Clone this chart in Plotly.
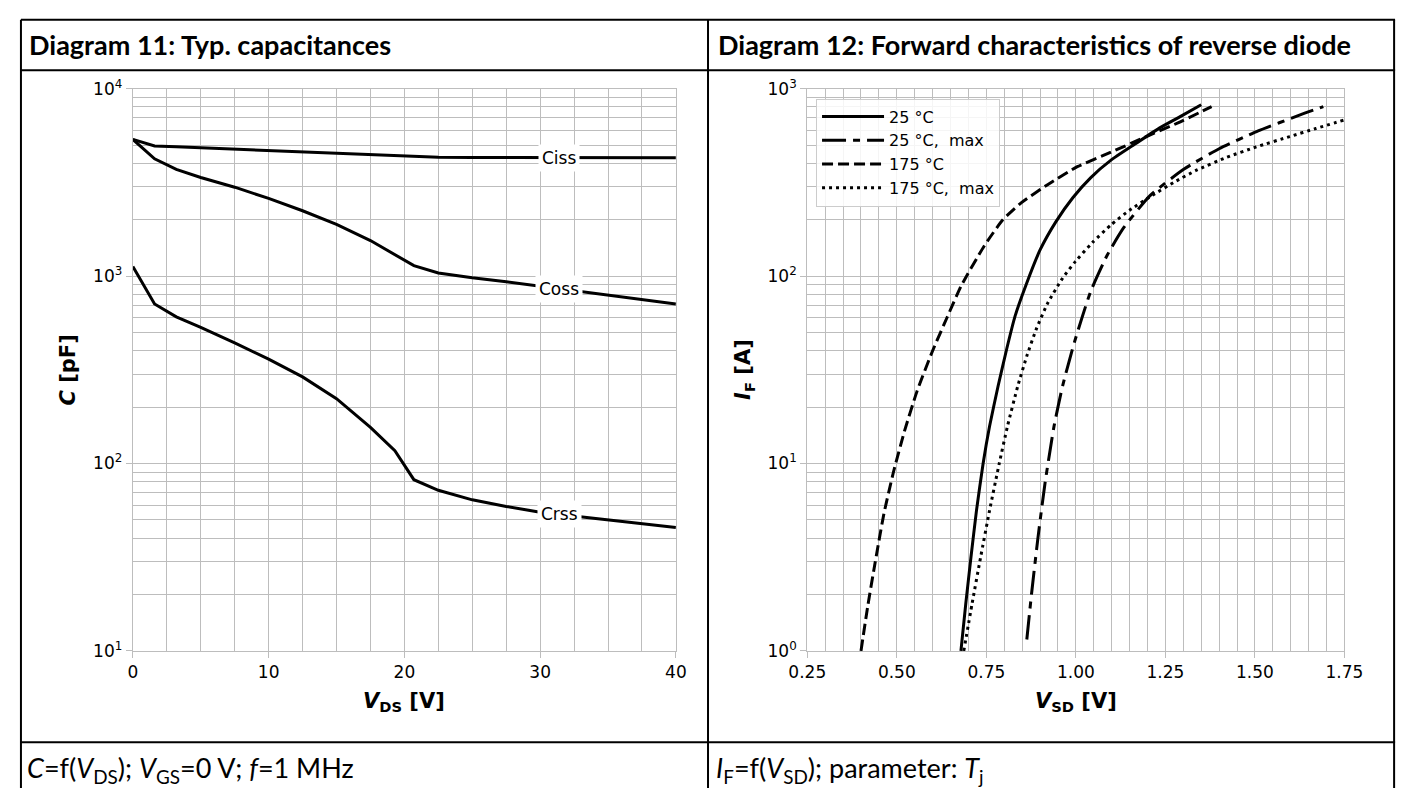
import math
import plotly.graph_objects as go

W, H = 1417, 798

# ---------------- Diagram 11 data (typ. capacitances) ----------------
vds = [0, 1.6, 3.2, 5, 7.5, 10, 12.5, 15, 17.5, 19.3, 20.7, 22.5, 25, 27.5, 30, 35, 40]
ciss = [5370, 4950, 4900, 4840, 4760, 4670, 4590, 4510, 4430, 4370, 4330, 4310, 4300, 4295, 4290, 4285, 4280]
coss = [5370, 4230, 3715, 3365, 2985, 2600, 2235, 1890, 1550, 1295, 1138, 1040, 980, 934, 885, 790, 711]
crss = [1125, 711, 607, 533, 440, 361, 290, 222, 156, 117, 82, 72, 64, 59, 55, 50, 45.5]
cap_names = ["Ciss", "Coss", "Crss"]
cap_label_vds = 31.4
cap_ticks = [10, 100, 1000, 10000]
cap_ticktext = ["10<sup>1</sup>", "10<sup>2</sup>", "10<sup>3</sup>", "10<sup>4</sup>"]
vds_ticks = [0, 10, 20, 30, 40]

# ---------------- Diagram 12 data (forward characteristics) ----------------
v_25 = [0.679, 0.6925, 0.707, 0.7225, 0.741, 0.759, 0.783, 0.807, 0.830, 0.860, 0.900, 0.944,
        0.992, 1.041, 1.098, 1.165, 1.233, 1.290, 1.35]
i_25 = [1.0, 1.78, 3.16, 5.62, 10, 15.8, 26, 41, 61, 89, 138, 195, 263, 335, 416, 507, 617, 708, 822]

v_25max = [0.863, 0.876, 0.894, 0.914, 0.939, 0.963, 0.996, 1.041, 1.087, 1.134, 1.207, 1.301,
           1.400, 1.509, 1.628, 1.691]
i_25max = [1.15, 2.0, 4.0, 7.9, 15.8, 26, 44.5, 82.6, 129, 182, 269, 372, 479, 596, 728, 804]

v_175 = [0.400, 0.419, 0.440, 0.464, 0.490, 0.521, 0.557, 0.600, 0.640, 0.680, 0.744, 0.796,
         0.848, 0.921, 1.004, 1.098, 1.191, 1.285, 1.379]
i_175 = [1.0, 1.74, 3.0, 5.4, 8.9, 14.8, 24.5, 40, 60, 89, 145, 200, 247, 308, 384, 459, 550, 658, 803]

v_175max = [0.687, 0.710, 0.734, 0.759, 0.786, 0.809, 0.838, 0.864, 0.890, 0.921, 0.963, 0.999,
            1.046, 1.098, 1.150, 1.212, 1.275, 1.337, 1.420, 1.504, 1.597, 1.670, 1.750]
i_175max = [1.0, 1.78, 3.16, 5.62, 10, 15.8, 26, 38, 52.5, 71.6, 97.7, 120, 151, 188, 225, 269,
            318, 368, 430, 490, 556, 614, 682]

diode_names = ["25 °C", "25 °C,\u00a0 max", "175 °C", "175 °C,\u00a0 max"]
if_ticks = [1, 10, 100, 1000]
if_ticktext = ["10<sup>0</sup>", "10<sup>1</sup>", "10<sup>2</sup>", "10<sup>3</sup>"]
vsd_ticks = [0.25, 0.5, 0.75, 1.0, 1.25, 1.5, 1.75]

# ---------------- helpers ----------------
def xp(px):
    return px / W

def yp(py):
    return 1 - py / H

GRID = "#bdbdbd"
TICKFONT = dict(family="DejaVu Sans", size=17, color="black")

fig = go.Figure()

# left plot traces
for vals in (ciss, coss, crss):
    fig.add_trace(go.Scatter(x=vds, y=vals, mode="lines", showlegend=False,
                             line=dict(color="black", width=3),
                             xaxis="x", yaxis="y", hoverinfo="skip"))

# right plot traces
diode_series = [(v_25, i_25, "solid"),
                (v_25max, i_25max, "24px,7px,7px,7px"),
                (v_175, i_175, "11px,5px"),
                (v_175max, i_175max, "3px,4px")]
for (vv, ii, dash), name in zip(diode_series, diode_names):
    fig.add_trace(go.Scatter(x=vv, y=ii, mode="lines", name=name,
                             line=dict(color="black", width=3, dash=dash, shape="spline",
                                       smoothing=0.5),
                             xaxis="x2", yaxis="y2", hoverinfo="skip"))

common = dict(showgrid=True, gridcolor=GRID, gridwidth=1.3, zeroline=False,
              ticks="outside", ticklen=6, tickcolor=GRID, tickwidth=1.3,
              showline=True, linecolor=GRID, linewidth=1.3, mirror=True,
              tickfont=TICKFONT)

minor_y_left = [m * 10 ** e for e in range(1, 4) for m in range(2, 10)]
minor_y_right = [m * 10 ** e for e in range(0, 3) for m in range(2, 10)]
minor_style = dict(showgrid=True, gridcolor=GRID, gridwidth=1.3, ticks="")

fig.update_layout(
    width=W, height=H,
    margin=dict(l=0, r=0, t=0, b=0),
    paper_bgcolor="white", plot_bgcolor="white",
    xaxis=dict(domain=[xp(117), xp(675)], range=[0, 40], tickvals=vds_ticks,
               minor=dict(dtick=2.5, tick0=0, **minor_style), anchor="y", **common),
    yaxis=dict(domain=[yp(657), yp(79)], type="log", range=[1, 4],
               tickvals=cap_ticks, ticktext=cap_ticktext,
               minor=dict(tickvals=minor_y_left, **minor_style), anchor="x", **common),
    xaxis2=dict(domain=[xp(810), xp(1362)], range=[0.25, 1.75],
                tickvals=vsd_ticks, tickformat=".2f",
                minor=dict(dtick=0.05, tick0=0.25, **minor_style), anchor="y2", **common),
    yaxis2=dict(domain=[yp(657), yp(79)], type="log", range=[0, 3],
                tickvals=if_ticks, ticktext=if_ticktext,
                minor=dict(tickvals=minor_y_right, **minor_style), anchor="x2", **common),
    legend=dict(x=xp(819), y=yp(89), xanchor="left", yanchor="top",
                bgcolor="rgba(255,255,255,0.85)", bordercolor="#cccccc", borderwidth=1,
                font=dict(family="DejaVu Sans", size=16, color="black"),
                itemwidth=62, tracegroupgap=0),
    showlegend=True,
)

# capacitance labels with white boxes, placed on the curves
def interp_log(xq, xs, ys):
    for k in range(len(xs) - 1):
        if xs[k] <= xq <= xs[k + 1]:
            t = (xq - xs[k]) / (xs[k + 1] - xs[k])
            return math.log10(ys[k]) + t * (math.log10(ys[k + 1]) - math.log10(ys[k]))
    return math.log10(ys[-1])

annotations = []
for name, vals in zip(cap_names, (ciss, coss, crss)):
    annotations.append(dict(x=cap_label_vds, y=interp_log(cap_label_vds, vds, vals),
                            xref="x", yref="y", text=name, showarrow=False,
                            bgcolor="white", borderpad=3,
                            font=dict(family="DejaVu Sans", size=17, color="black")))

TITLE_FONT = dict(family="Lato", size=27, color="black", weight=700)
FOOT_FONT = dict(family="Lato", size=27, color="black")
AX_FONT = dict(family="DejaVu Sans", size=21, color="black")

annotations += [
    dict(x=xp(8), y=yp(33), xref="paper", yref="paper", xanchor="left", yanchor="middle",
         text="Diagram 11: Typ. capacitances", showarrow=False, font=TITLE_FONT),
    dict(x=xp(716), y=yp(33), xref="paper", yref="paper", xanchor="left", yanchor="middle",
         text="Diagram 12: Forward characteristics of reverse diode", showarrow=False,
         font=TITLE_FONT),
    dict(x=xp(6), y=yp(779), xref="paper", yref="paper", xanchor="left", yanchor="middle",
         text="<i>C</i>=f(<i>V</i><sub>DS</sub>); <i>V</i><sub>GS</sub>=0 V; <i>f</i>=1 MHz",
         showarrow=False, font=FOOT_FONT),
    dict(x=xp(714), y=yp(779), xref="paper", yref="paper", xanchor="left", yanchor="middle",
         text="<i>I</i><sub>F</sub>=f(<i>V</i><sub>SD</sub>); parameter: <i>T</i><sub>j</sub>",
         showarrow=False, font=FOOT_FONT),
    dict(x=xp(396), y=yp(710), xref="paper", yref="paper", xanchor="center", yanchor="middle",
         text="<b><i>V</i><sub>DS</sub> [V]</b>", showarrow=False, font=AX_FONT),
    dict(x=xp(1086), y=yp(710), xref="paper", yref="paper", xanchor="center", yanchor="middle",
         text="<b><i>V</i><sub>SD</sub> [V]</b>", showarrow=False, font=AX_FONT),
    dict(x=xp(50), y=yp(368), xref="paper", yref="paper", xanchor="center", yanchor="middle",
         text="<b><i>C</i> [pF]</b>", showarrow=False, font=AX_FONT, textangle=-90),
    dict(x=xp(745), y=yp(368), xref="paper", yref="paper", xanchor="center", yanchor="middle",
         text="<b><i>I</i><sub>F</sub> [A]</b>", showarrow=False, font=AX_FONT, textangle=-90),
]
fig.update_layout(annotations=annotations)

# table frame lines
LINE = dict(color="black", width=2)
def hline(y):
    return dict(type="line", xref="paper", yref="paper", x0=xp(2), x1=xp(1414),
                y0=yp(y), y1=yp(y), line=LINE)
def vline(x):
    return dict(type="line", xref="paper", yref="paper", x0=xp(x), x1=xp(x),
                y0=yp(8), y1=yp(798), line=LINE)
fig.update_layout(shapes=[hline(8), hline(60), hline(751), vline(2), vline(708), vline(1413)])

# remove the default page margin so the figure fills the window exactly
fig.write_html("out.html", config={"displayModeBar": False},
               post_script="document.body.style.margin='0';document.body.style.overflow='hidden';")
